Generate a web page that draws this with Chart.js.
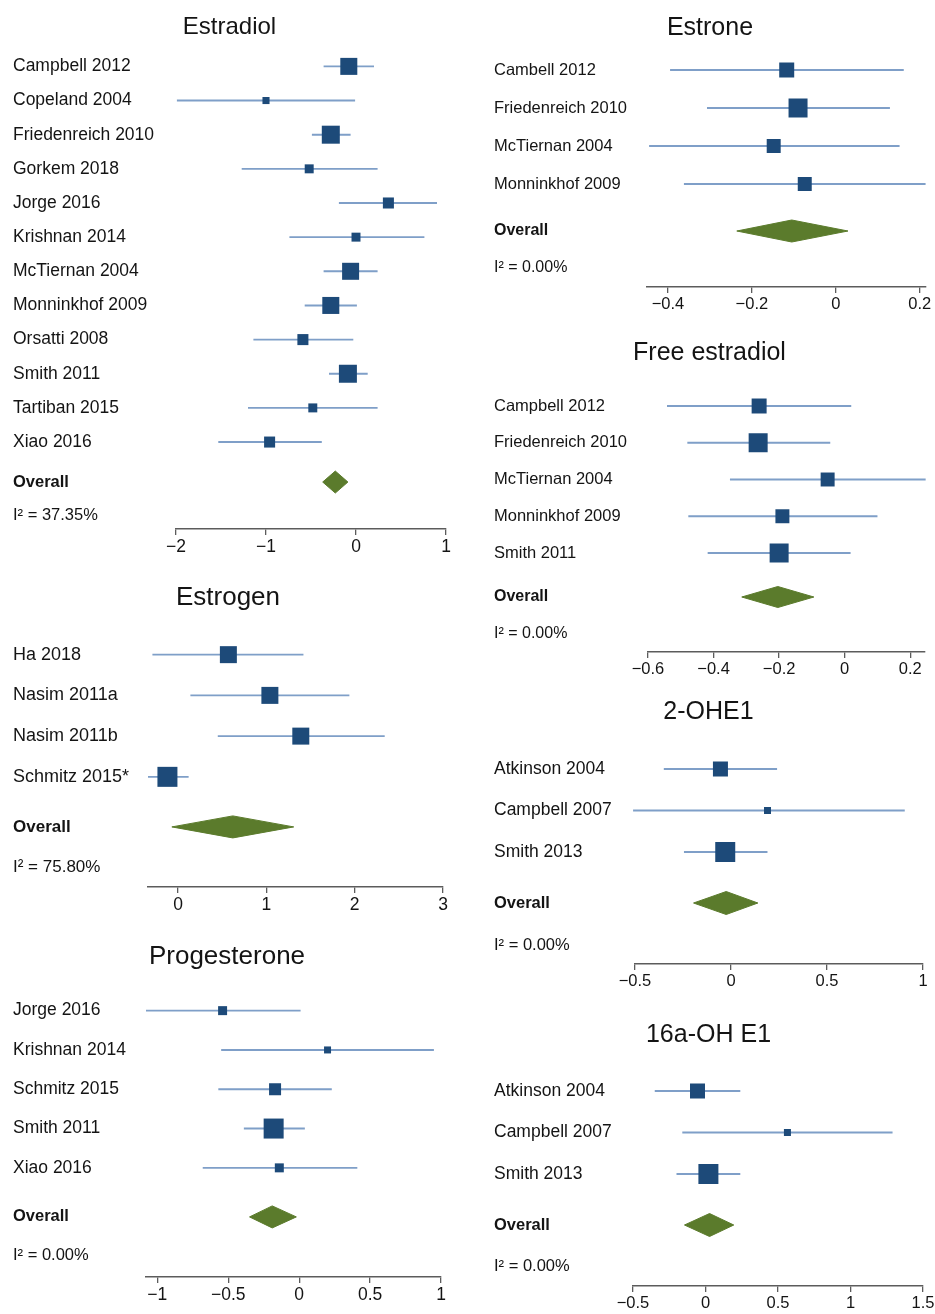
<!DOCTYPE html>
<html><head><meta charset="utf-8">
<script src="https://cdn.jsdelivr.net/npm/chart.js@4.4.1/dist/chart.umd.min.js"></script>
<style>
html,body{margin:0;padding:0;background:#fff;overflow:hidden;width:935px;height:1314px;position:relative}
canvas{position:absolute}
</style></head><body>
<script>
// ---------------- DATA ----------------
const estradiolStudies = ['Campbell 2012','Copeland 2004','Friedenreich 2010','Gorkem 2018','Jorge 2016','Krishnan 2014','McTiernan 2004','Monninkhof 2009','Orsatti 2008','Smith 2011','Tartiban 2015','Xiao 2016'];
const estradiolEst = [-0.08,-1.00,-0.28,-0.52,0.36,0.00,-0.06,-0.28,-0.59,-0.09,-0.48,-0.96];
const estradiolLo  = [-0.36,-1.99,-0.49,-1.27,-0.19,-0.74,-0.36,-0.57,-1.14,-0.30,-1.20,-1.53];
const estradiolHi  = [0.20,-0.01,-0.06,0.24,0.90,0.76,0.24,0.01,-0.03,0.13,0.24,-0.38];
const estradiolWeight = [13.3,2.3,14.9,3.7,5.6,3.7,13.3,13.3,5.6,14.9,3.7,5.6];
const estradiolOverall = [-0.37,-0.23,-0.09];
const estradiolI2 = '37.35%';
const estradiolTicks = [-2,-1,0,1];

const estrogenStudies = ['Ha 2018','Nasim 2011a','Nasim 2011b','Schmitz 2015*'];
const estrogenEst = [0.57,1.04,1.39,-0.12];
const estrogenLo  = [-0.29,0.14,0.45,-0.34];
const estrogenHi  = [1.42,1.94,2.34,0.12];
const estrogenWeight = [22.8,22.8,22.8,31.6];
const estrogenOverall = [-0.07,0.62,1.31];
const estrogenI2 = '75.80%';
const estrogenTicks = [0,1,2,3];

const progStudies = ['Jorge 2016','Krishnan 2014','Schmitz 2015','Smith 2011','Xiao 2016'];
const progEst = [-0.54,0.20,-0.17,-0.18,-0.14];
const progLo  = [-1.08,-0.55,-0.57,-0.39,-0.68];
const progHi  = [0.01,0.95,0.23,0.04,0.41];
const progWeight = [10.7,6.5,19.1,53.0,10.7];
const progOverall = [-0.35,-0.19,-0.02];
const progI2 = '0.00%';
const progTicks = [-1,-0.5,0,0.5,1];

const estroneStudies = ['Cambell 2012','Friedenreich 2010','McTiernan 2004','Monninkhof 2009'];
const estroneEst = [-0.117,-0.09,-0.148,-0.074];
const estroneLo  = [-0.395,-0.307,-0.445,-0.362];
const estroneHi  = [0.162,0.129,0.152,0.214];
const estroneWeight = [23.0,36.9,20.0,20.0];
const estroneOverall = [-0.236,-0.105,0.029];
const estroneI2 = '0.00%';
const estroneTicks = [-0.4,-0.2,0,0.2];

const freeStudies = ['Campbell 2012','Friedenreich 2010','McTiernan 2004','Monninkhof 2009','Smith 2011'];
const freeEst = [-0.261,-0.264,-0.052,-0.19,-0.2];
const freeLo  = [-0.542,-0.48,-0.35,-0.477,-0.418];
const freeHi  = [0.02,-0.044,0.247,0.10,0.018];
const freeWeight = [16.8,27.0,14.6,14.6,27.0];
const freeOverall = [-0.314,-0.204,-0.094];
const freeI2 = '0.00%';
const freeTicks = [-0.6,-0.4,-0.2,0,0.2];

const ohe2Studies = ['Atkinson 2004','Campbell 2007','Smith 2013'];
const ohe2Est = [-0.055,0.19,-0.03];
const ohe2Lo  = [-0.35,-0.51,-0.245];
const ohe2Hi  = [0.24,0.905,0.19];
const ohe2Weight = [33.4,7.3,59.3];
const ohe2Overall = [-0.195,-0.025,0.14];
const ohe2I2 = '0.00%';
const ohe2Ticks = [-0.5,0,0.5,1];

const oh16Studies = ['Atkinson 2004','Campbell 2007','Smith 2013'];
const oh16Est = [-0.055,0.565,0.02];
const oh16Lo  = [-0.35,-0.16,-0.2];
const oh16Hi  = [0.24,1.29,0.24];
const oh16Weight = [33.4,7.3,59.3];
const oh16Overall = [-0.145,0.028,0.195];
const oh16I2 = '0.00%';
const oh16Ticks = [-0.5,0,0.5,1,1.5];

// ---------------- STYLE ----------------
const FONT = "'Liberation Sans', Arial, Helvetica, sans-serif";
const SQUARE = '#1d4a79', CI = '#7f9fc8', DIAMOND = '#5b7b2c', AXIS = '#5c5c5c', TEXT = '#141414';
const XH = 40; // x-axis box height

function fmt(v){ return (v < 0 ? '\u2212' : '') + String(Math.abs(v)); }

function makePanel(p, L) {
  const canvasTop = L.titleY - 0.6 * L.titleSize;
  const titlePadBottom = 4;
  const chartTop = canvasTop + 1.2 * L.titleSize + titlePadBottom;
  const H = Math.round(L.axisY + XH - canvasTop);
  const c = document.createElement('canvas');
  c.width = L.width; c.height = H;
  c.style.left = L.left + 'px'; c.style.top = canvasTop + 'px';
  c.style.width = L.width + 'px'; c.style.height = H + 'px';
  document.body.appendChild(c);

  const s = L.step;
  const n = p.studies.length;
  const ovV = (L.overallY - L.y0) / s;
  const i2V = (L.i2Y - L.y0) / s;
  const yPositions = p.studies.map((_, i) => i).concat([ovV, i2V]);
  const yLabels = p.studies.concat(['Overall', 'I\u00B2 = ' + p.i2]);
  const maxW = Math.max.apply(null, p.weight);

  const squares = p.est.map((e, i) => ({x: e, y: i}));
  const radii = p.weight.map(w => L.maxSide * Math.sqrt(w / maxW) / Math.SQRT2);
  const ciData = [];
  p.lo.forEach((lo, i) => { ciData.push({x: lo, y: i}, {x: p.hi[i], y: i}, {x: null, y: null}); });
  const dh = L.diamondHalf / s;
  const [olo, oe, ohi] = p.overall;
  const diamond = [{x: olo, y: ovV}, {x: oe, y: ovV - dh}, {x: ohi, y: ovV}, {x: oe, y: ovV + dh}, {x: olo, y: ovV}];

  new Chart(c, {
    type: 'scatter',
    data: {
      datasets: [
        {data: squares, showLine: false, pointStyle: 'rect', pointRadius: radii, pointHoverRadius: radii,
         pointBackgroundColor: SQUARE, pointBorderColor: SQUARE, pointBorderWidth: 0, order: 0, clip: false},
        {data: ciData, showLine: true, spanGaps: false, borderColor: CI, borderWidth: 1.9, pointRadius: 0,
         pointHoverRadius: 0, fill: false, order: 1, clip: false},
        {data: diamond, showLine: true, borderColor: DIAMOND, borderWidth: 1, backgroundColor: DIAMOND,
         fill: 'shape', pointRadius: 0, pointHoverRadius: 0, order: 2, tension: 0, clip: false}
      ]
    },
    options: {
      responsive: false, animation: false, devicePixelRatio: 1,
      events: [],
      layout: {padding: {left: L.labelX - L.left, right: L.left + L.width - L.pxMax, top: 0, bottom: 0}},
      plugins: {
        legend: {display: false}, tooltip: {enabled: false},
        title: {display: true, text: p.title, color: TEXT, padding: {top: 0, bottom: titlePadBottom},
                font: {family: FONT, size: L.titleSize, weight: 'normal', lineHeight: 1.2}}
      },
      scales: {
        x: {
          type: 'linear', position: 'bottom', min: L.xmin, max: L.xmax, offset: false,
          afterBuildTicks: sc => { sc.ticks = p.ticks.map(v => ({value: v})); },
          afterFit: sc => { sc.height = XH; },
          ticks: {autoSkip: false, maxRotation: 0, padding: 2, color: TEXT,
                  font: {family: FONT, size: L.tickSize}, callback: v => fmt(v)},
          grid: {display: true, drawOnChartArea: false, drawTicks: true, tickLength: 6, color: AXIS, lineWidth: 1.3},
          border: {display: true, color: AXIS, width: 1.5}
        },
        y: {
          type: 'linear', position: 'left', reverse: true,
          min: (chartTop - L.y0) / s,
          max: (L.axisY - L.y0) / s,
          afterBuildTicks: sc => { sc.ticks = yPositions.map(v => ({value: v})); },
          afterFit: sc => { sc.width = L.pxMin - L.labelX; },
          ticks: {autoSkip: false, crossAlign: 'far', padding: 0, color: TEXT,
                  callback: (v, i) => yLabels[i],
                  font: ctx => (ctx.index === n
                      ? {family: FONT, size: L.boldSize, weight: 'bold'}
                      : ctx.index === n + 1
                        ? {family: FONT, size: L.boldSize, weight: 'normal'}
                        : {family: FONT, size: L.labelSize, weight: 'normal'})},
          grid: {display: false}, border: {display: false}
        }
      }
    }
  });
}

makePanel({title: 'Estradiol', studies: estradiolStudies, est: estradiolEst, lo: estradiolLo, hi: estradiolHi,
  weight: estradiolWeight, overall: estradiolOverall, i2: estradiolI2, ticks: estradiolTicks},
  {left: 0, width: 460, labelX: 13, pxMin: 176, pxMax: 446, xmin: -2, xmax: 1, titleY: 27, titleSize: 24,
   y0: 66, step: 34.18, overallY: 482, i2Y: 515, axisY: 529, maxSide: 18, diamondHalf: 11,
   labelSize: 17.5, boldSize: 16.5, tickSize: 17.5});

makePanel({title: 'Estrogen', studies: estrogenStudies, est: estrogenEst, lo: estrogenLo, hi: estrogenHi,
  weight: estrogenWeight, overall: estrogenOverall, i2: estrogenI2, ticks: estrogenTicks},
  {left: 0, width: 460, labelX: 13, pxMin: 148, pxMax: 443, xmin: -0.34, xmax: 3, titleY: 598, titleSize: 26,
   y0: 655, step: 40.67, overallY: 827, i2Y: 867, axisY: 887, maxSide: 20, diamondHalf: 11,
   labelSize: 18, boldSize: 17, tickSize: 17.5});

makePanel({title: 'Progesterone', studies: progStudies, est: progEst, lo: progLo, hi: progHi,
  weight: progWeight, overall: progOverall, i2: progI2, ticks: progTicks},
  {left: 0, width: 460, labelX: 13, pxMin: 146, pxMax: 441, xmin: -1.08, xmax: 1, titleY: 957, titleSize: 26,
   y0: 1011, step: 39.25, overallY: 1217, i2Y: 1255, axisY: 1277, maxSide: 20, diamondHalf: 11,
   labelSize: 17.5, boldSize: 16.5, tickSize: 17.5});

makePanel({title: 'Estrone', studies: estroneStudies, est: estroneEst, lo: estroneLo, hi: estroneHi,
  weight: estroneWeight, overall: estroneOverall, i2: estroneI2, ticks: estroneTicks},
  {left: 470, width: 480, labelX: 494, pxMin: 647, pxMax: 926, xmin: -0.45, xmax: 0.215, titleY: 28, titleSize: 25,
   y0: 70, step: 38, overallY: 231, i2Y: 268, axisY: 287, maxSide: 19, diamondHalf: 11,
   labelSize: 16.5, boldSize: 16, tickSize: 16.5});

makePanel({title: 'Free estradiol', studies: freeStudies, est: freeEst, lo: freeLo, hi: freeHi,
  weight: freeWeight, overall: freeOverall, i2: freeI2, ticks: freeTicks},
  {left: 470, width: 480, labelX: 494, pxMin: 648, pxMax: 925, xmin: -0.6, xmax: 0.245, titleY: 353, titleSize: 25,
   y0: 406, step: 36.75, overallY: 597, i2Y: 634, axisY: 652, maxSide: 19, diamondHalf: 10.5,
   labelSize: 16.5, boldSize: 16, tickSize: 16.5});

makePanel({title: '2-OHE1', studies: ohe2Studies, est: ohe2Est, lo: ohe2Lo, hi: ohe2Hi,
  weight: ohe2Weight, overall: ohe2Overall, i2: ohe2I2, ticks: ohe2Ticks},
  {left: 470, width: 480, labelX: 494, pxMin: 635, pxMax: 923, xmin: -0.5, xmax: 1, titleY: 712, titleSize: 25,
   y0: 769, step: 41.5, overallY: 903, i2Y: 945, axisY: 964, maxSide: 20, diamondHalf: 11.5,
   labelSize: 17.5, boldSize: 16.5, tickSize: 16.5});

makePanel({title: '16a-OH E1', studies: oh16Studies, est: oh16Est, lo: oh16Lo, hi: oh16Hi,
  weight: oh16Weight, overall: oh16Overall, i2: oh16I2, ticks: oh16Ticks},
  {left: 470, width: 480, labelX: 494, pxMin: 633, pxMax: 923, xmin: -0.5, xmax: 1.5, titleY: 1035, titleSize: 25,
   y0: 1091, step: 41.5, overallY: 1225, i2Y: 1266, axisY: 1286, maxSide: 20, diamondHalf: 11.5,
   labelSize: 17.5, boldSize: 16.5, tickSize: 16.5});
</script>
</body></html>
